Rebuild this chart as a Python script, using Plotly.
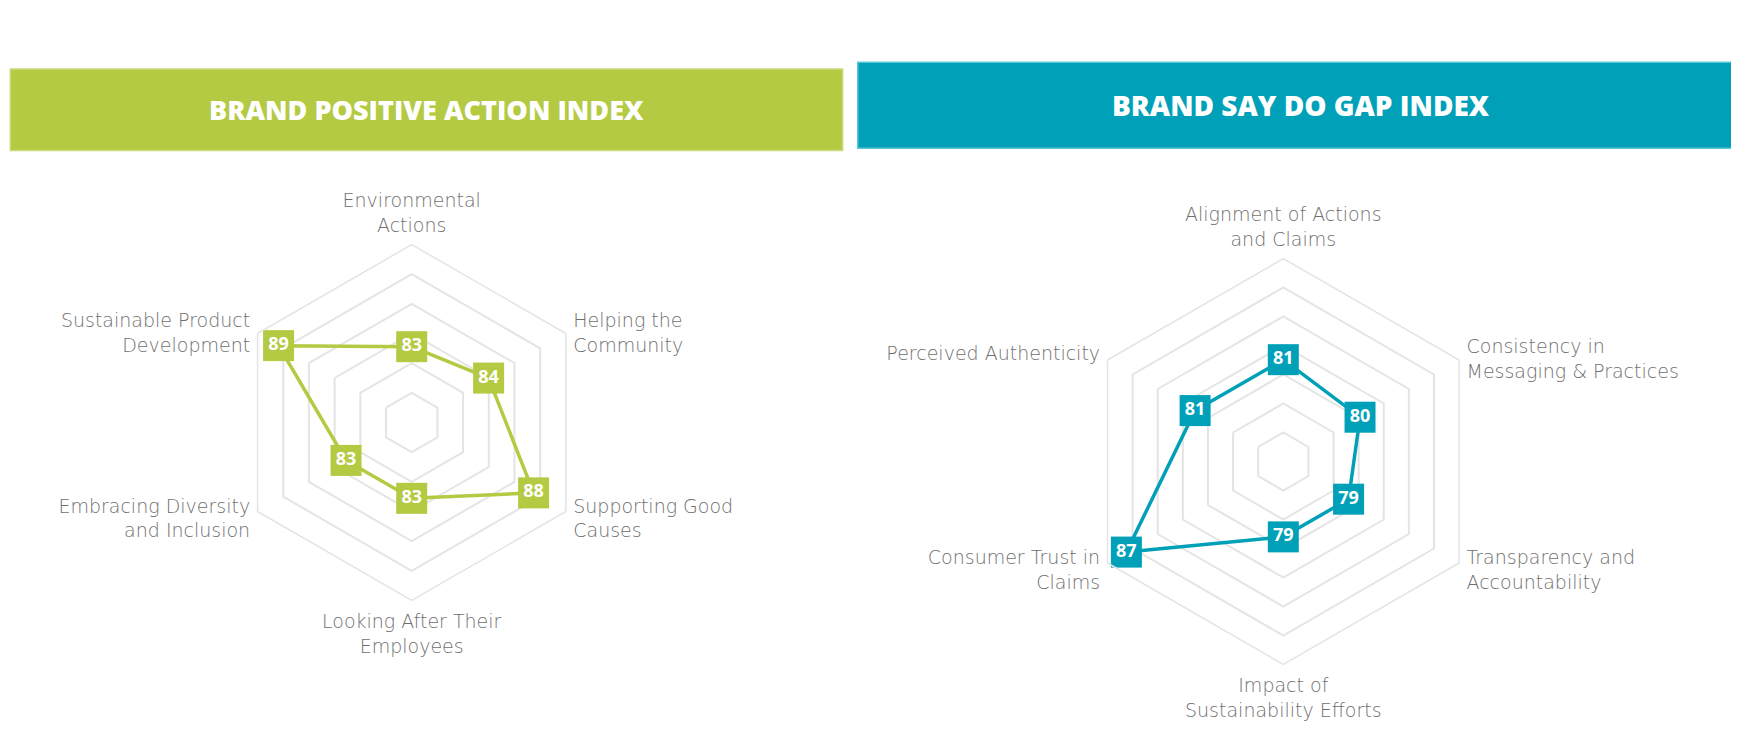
import plotly.graph_objects as go

# ---------------- data ----------------
left_title = "BRAND POSITIVE ACTION INDEX"
left_categories = [
    "Environmental<br>Actions",
    "Helping the<br>Community",
    "Supporting Good<br>Causes",
    "Looking After Their<br>Employees",
    "Embracing Diversity<br>and Inclusion",
    "Sustainable Product<br>Development",
]
left_values = [83, 84, 88, 83, 83, 89]

right_title = "BRAND SAY DO GAP INDEX"
right_categories = [
    "Alignment of Actions<br>and Claims",
    "Consistency in<br>Messaging & Practices",
    "Transparency and<br>Accountability",
    "Impact of<br>Sustainability Efforts",
    "Consumer Trust in<br>Claims",
    "Perceived Authenticity",
]
right_values = [81, 80, 79, 79, 87, 81]

# ---------------- style ----------------
OFF = 8  # browser default body margin
W, H = 1739 - OFF, 747 - OFF
GREEN = "#B4CA42"
TEAL = "#00A1B8"
GRID = "#E4E4E4"
LABEL = "#6F6F6F"
LABEL_FONT = "DejaVu Sans"
BOLD_FONT = "Open Sans"
NB = "\u00a0"

left_range = [77.16, 90.87]
left_rings = 6
right_range = [73.3, 88.65]
right_rings = 7


def px_domain(cx, cy, r):
    cx -= OFF
    cy -= OFF
    return dict(x=[(cx - r) / W, (cx + r) / W], y=[(H - cy - r) / H, (H - cy + r) / H])


def ring_vals(rng, n):
    step = (rng[1] - rng[0]) / n
    return [rng[0] + k * step for k in range(1, n)]


def padded_ticks(cats):
    # vertically centre the side labels on their vertex
    out = []
    for i, c in enumerate(cats):
        lines = c.count("<br>") + 1
        if lines == 2 and i in (1, 5):
            out.append(f"{NB}<br>{NB}<br>" + c)
        elif lines == 2 and i in (2, 4):
            out.append(c + f"<br>{NB}<br>{NB}")
        else:
            out.append(c)
    return out


fig = go.Figure()


def add_radar(polar_id, cats, vals, color):
    fig.add_trace(go.Scatterpolar(
        r=vals + vals[:1], theta=cats + cats[:1], mode="lines",
        line=dict(color=color, width=3.5), subplot=polar_id,
        hoverinfo="skip", showlegend=False,
    ))
    fig.add_trace(go.Scatterpolar(
        r=vals, theta=cats, mode="markers+text",
        marker=dict(symbol="square", size=31, color=color, line=dict(width=0)),
        text=[str(v) for v in vals], textposition="middle center",
        textfont=dict(color="white", size=18, family=BOLD_FONT, weight=700),
        subplot=polar_id, showlegend=False,
    ))


add_radar("polar", left_categories, left_values, GREEN)
add_radar("polar2", right_categories, right_values, TEAL)


def polar_layout(domain, cats, rng, n):
    return dict(
        domain=domain,
        bgcolor="white",
        gridshape="linear",
        radialaxis=dict(
            range=rng, tickvals=ring_vals(rng, n), showticklabels=False,
            ticks="", showline=False, gridcolor=GRID, gridwidth=1.5,
        ),
        angularaxis=dict(
            type="category", categoryarray=cats, categoryorder="array",
            tickmode="array", tickvals=cats, ticktext=padded_ticks(cats),
            rotation=90, direction="clockwise", showgrid=False,
            showline=True, linecolor=GRID, linewidth=1.5,
            ticks="outside", ticklen=4, tickcolor="rgba(0,0,0,0)",
            tickfont=dict(family=LABEL_FONT, size=19, color=LABEL, weight=200),
        ),
    )


fig.update_layout(
    width=W, height=H, autosize=False,
    margin=dict(l=0, r=0, t=0, b=0),
    paper_bgcolor="white", plot_bgcolor="white",
    polar=polar_layout(px_domain(411.7, 422.5, 178), left_categories, left_range, left_rings),
    polar2=polar_layout(px_domain(1283.3, 461.5, 203), right_categories, right_range, right_rings),
)


def banner(x0, y0, x1, y1, fill, border, text, size):
    x0 -= OFF; x1 -= OFF; y0 -= OFF; y1 -= OFF
    fig.add_shape(type="rect", xref="paper", yref="paper",
                  x0=x0 / W, x1=x1 / W, y0=1 - y1 / H, y1=1 - y0 / H,
                  fillcolor=fill, line=dict(color=border, width=1.5), layer="below")
    fig.add_annotation(xref="paper", yref="paper", x=(x0 + x1) / 2 / W,
                       y=1 - (y0 + y1) / 2 / H, text=text, showarrow=False,
                       xanchor="center", yanchor="middle",
                       font=dict(family=BOLD_FONT, size=size, color="white", weight=800))


banner(10.3, 69, 842.7, 150.5, GREEN, "#CBDB7C", left_title, 27)
banner(857.7, 62.3, 1745, 148.3, TEAL, "#5CC6D5", right_title, 28)

fig.write_html("out.html")
